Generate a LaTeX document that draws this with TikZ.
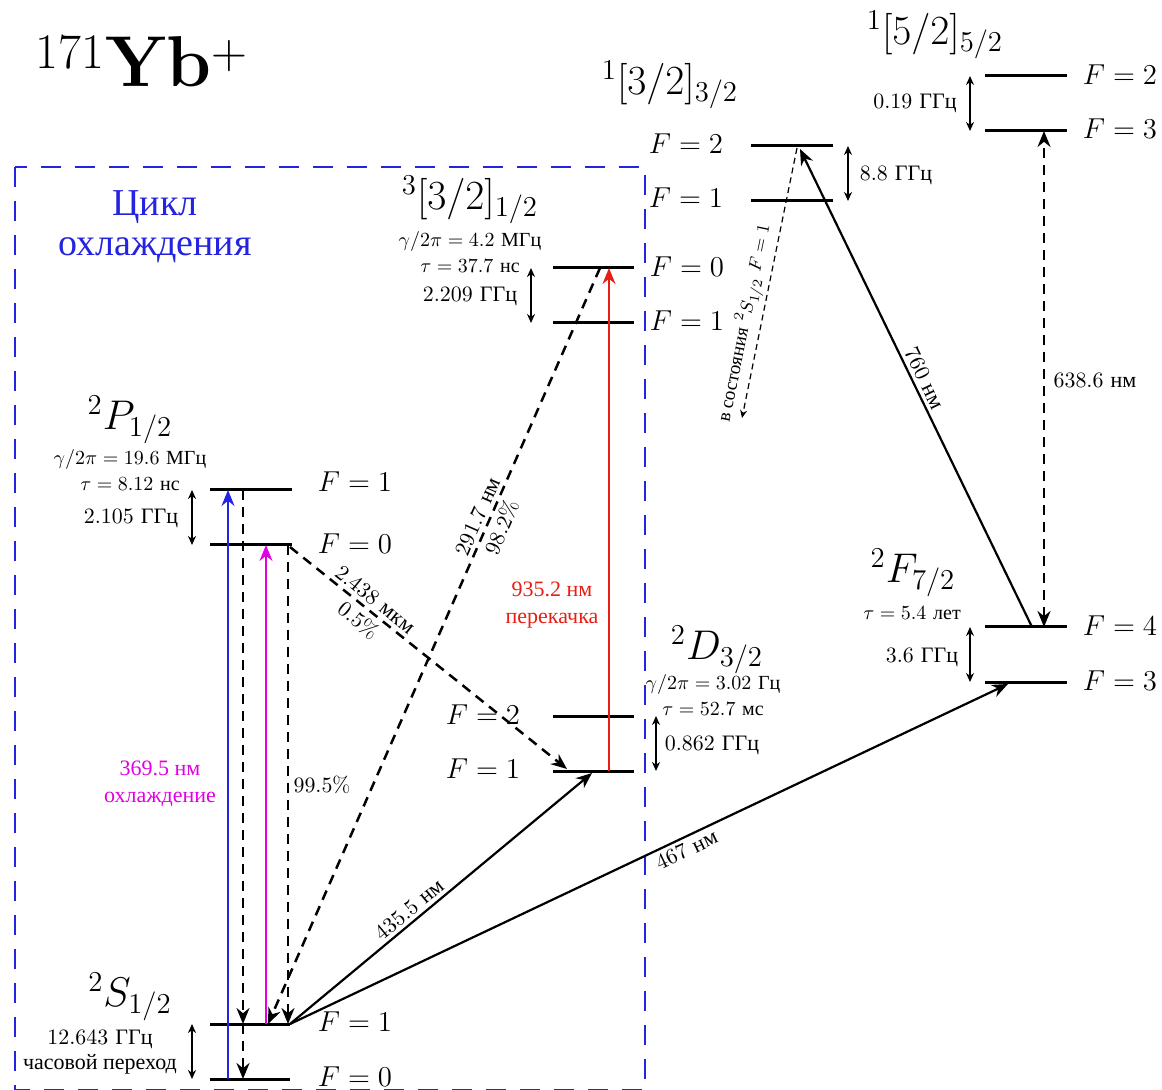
\documentclass[tikz,border=0pt]{standalone}
\usepackage{fontspec}
\newfontfamily\ru{Liberation Serif}
\usetikzlibrary{arrows.meta,calc}
\definecolor{cblue}{RGB}{35,35,225}
\definecolor{cred}{RGB}{232,30,20}
\definecolor{cmag}{RGB}{225,0,225}
\begin{document}
\begin{tikzpicture}[x=0.5pt,y=-0.5pt,
  level/.style={line width=1.5pt},
  flab/.style={font=\Large, inner sep=0pt},
  hf/.style={{Stealth[length=4.5pt,width=4pt]}-{Stealth[length=4.5pt,width=4pt]}, line width=0.8pt},
  tr/.style={line width=1.1pt, -{Stealth[length=8pt,width=6.5pt]}},
  dtr/.style={tr, line width=1.25pt, dash pattern=on 5pt off 3.5pt},
  thintr/.style={line width=0.6pt, dash pattern=on 3pt off 2pt, -{Stealth[length=4pt,width=3.5pt]}},
  lbl/.style={font=\fontsize{11}{12.5}\selectfont, inner sep=1pt},
  slbl/.style={font=\fontsize{11}{12.5}\selectfont, inner sep=2pt},
  info/.style={font=\fontsize{10}{12}\selectfont, align=center, inner sep=0pt},
  state/.style={font=\huge, inner sep=0pt},
  clab/.style={font=\ru\fontsize{11}{13.5}\selectfont, align=center, inner sep=0pt},
  boxdash/.style={draw=cblue, line width=1.3pt, dash pattern=on 10pt off 7pt}
]
\useasboundingbox (0,0) rectangle (1162,1090);

% cooling cycle box
\coordinate (boxNW) at (15,167);
\coordinate (boxSE) at (645,1090);
\draw[boxdash] (boxNW) rectangle (boxSE);
\node[font=\ru\fontsize{19}{20}\selectfont, text=cblue, align=center] (cyc) at (155,227) {Цикл\\охлаждения};

% title
\node[font=\fontsize{36}{42}\selectfont] (title) at (142,62) {$^{171}$\textbf{Yb}$^{+}$};

% ---------- levels ----------
\coordinate (S1l) at (210,1024); \coordinate (S1r) at (290,1024);
\coordinate (S0l) at (210,1079); \coordinate (S0r) at (290,1079);
\coordinate (P1l) at (210,490);  \coordinate (P1r) at (292,490);
\coordinate (P0l) at (210,545);  \coordinate (P0r) at (292,545);
\coordinate (D2l) at (553,716);  \coordinate (D2r) at (634,716);
\coordinate (D1l) at (553,771);  \coordinate (D1r) at (634,771);
\coordinate (T0l) at (553,268);  \coordinate (T0r) at (634,268);
\coordinate (T1l) at (553,323);  \coordinate (T1r) at (634,323);
\coordinate (Q2l) at (751,146);  \coordinate (Q2r) at (833,146);
\coordinate (Q1l) at (751,201);  \coordinate (Q1r) at (833,201);
\coordinate (V2l) at (985,76);   \coordinate (V2r) at (1067,76);
\coordinate (V3l) at (985,131);  \coordinate (V3r) at (1067,131);
\coordinate (F4l) at (985,627);  \coordinate (F4r) at (1067,627);
\coordinate (F3l) at (985,682);  \coordinate (F3r) at (1067,682);
\foreach \a/\b in {S1l/S1r,S0l/S0r,P1l/P1r,P0l/P0r,D2l/D2r,D1l/D1r,T0l/T0r,T1l/T1r,Q2l/Q2r,Q1l/Q1r,V2l/V2r,V3l/V3r,F4l/F4r,F3l/F3r}
  \draw[level] (\a) -- (\b);

% F labels
\node[flab] (lP1) at (355,482) {$F=1$};
\node[flab] (lP0) at (355,544) {$F=0$};
\node[flab] (lS1) at (355,1022) {$F=1$};
\node[flab] (lS0) at (355,1077) {$F=0$};
\node[flab] (lD2) at (483,715) {$F=2$};
\node[flab] (lD1) at (483,769) {$F=1$};
\node[flab] (lT0) at (687,267) {$F=0$};
\node[flab] (lT1) at (687,321) {$F=1$};
\node[flab] (lQ2) at (686,144) {$F=2$};
\node[flab] (lQ1) at (686,198) {$F=1$};
\node[flab] (lV2) at (1120,75) {$F=2$};
\node[flab] (lV3) at (1120,129) {$F=3$};
\node[flab] (lF4) at (1120,626) {$F=4$};
\node[flab] (lF3) at (1120,681) {$F=3$};

% state names and data
\node[state] (nP) at (130,420) {$^2P_{1/2}$};
\node[info] (iP) at (130,470) {$\gamma/2\pi=19.6$~{\ru МГц}\\[1pt]$\tau=8.12$~{\ru нс}};
\node[state] (nS) at (130,997) {$^2S_{1/2}$};
\node[state] (nT) at (470,200) {$^3[3/2]_{1/2}$};
\node[info] (iT) at (470,252) {$\gamma/2\pi=4.2$~{\ru МГц}\\[1pt]$\tau=37.7$~{\ru нс}};
\node[state] (nQ) at (670,85) {$^1[3/2]_{3/2}$};
\node[state] (nV) at (935,35) {$^1[5/2]_{5/2}$};
\node[state] (nF) at (913,573) {$^2F_{7/2}$};
\node[info] (iF) at (912,613) {$\tau=5.4$~{\ru лет}};
\node[state] (nD) at (717,650) {$^2D_{3/2}$};
\node[info] (iD) at (713,695) {$\gamma/2\pi=3.02$~{\ru Гц}\\[1pt]$\tau=52.7$~{\ru мс}};

% hyperfine splittings
\coordinate (hP1) at (192,490); \coordinate (hP0) at (192,545);
\draw[hf] (hP1) -- (hP0);
\node[lbl] (sP) at (131,518) {$2.105$~{\ru ГГц}};
\coordinate (hS1) at (192,1024); \coordinate (hS0) at (192,1079);
\draw[hf] (hS1) -- (hS0);
\node[lbl, align=center] (sS) at (100,1052) {$12.643$~{\ru ГГц}\\{\ru часовой переход}};
\coordinate (hT0) at (531,268); \coordinate (hT1) at (531,323);
\draw[hf] (hT0) -- (hT1);
\node[lbl] (sT) at (470,296) {$2.209$~{\ru ГГц}};
\coordinate (hD2) at (656,716); \coordinate (hD1) at (656,771);
\draw[hf] (hD2) -- (hD1);
\node[lbl] (sD) at (712,745) {$0.862$~{\ru ГГц}};
\coordinate (hQ2) at (848,146); \coordinate (hQ1) at (848,201);
\draw[hf] (hQ2) -- (hQ1);
\node[lbl] (sQ) at (896,175) {$8.8$~{\ru ГГц}};
\coordinate (hV2) at (970,76); \coordinate (hV3) at (970,131);
\draw[hf] (hV2) -- (hV3);
\node[lbl] (sV) at (915,103) {$0.19$~{\ru ГГц}};
\coordinate (hF4) at (970,627); \coordinate (hF3) at (970,682);
\draw[hf] (hF4) -- (hF3);
\node[lbl] (sF) at (922,657) {$3.6$~{\ru ГГц}};

% ---------- transitions ----------
% blue 369.5 from F=0
\coordinate (bS) at (228,1079); \coordinate (bP) at (228,490);
\draw[tr, draw=cblue, line width=1pt, -{Stealth[length=8pt,width=6.5pt,fill=cblue]}] (bS) -- (bP);
% dashed decay F=1 -> S F=1 -> S F=0
\coordinate (d1a) at (243,490); \coordinate (d1b) at (243,1024); \coordinate (d1c) at (243,1079);
\draw[dtr] (d1a) -- (d1b);
\draw[dtr] (d1b) -- (d1c);
% magenta cooling
\coordinate (mS) at (266,1024); \coordinate (mP) at (266,545);
\draw[tr, draw=cmag, line width=1pt, -{Stealth[length=8pt,width=6.5pt,fill=cmag]}] (mS) -- (mP);
\node[clab, text=cmag] (lcool) at (160,784) {369.5 нм\\охлаждение};
% dashed decay P F=0 -> S F=1
\coordinate (d2a) at (288,545); \coordinate (d2b) at (288,1024);
\draw[dtr] (d2a) -- (d2b);
\node[lbl] (p995) at (322,785) {$99.5\%$};
% P F=0 -> D F=1
\coordinate (d3a) at (290,547); \coordinate (d3b) at (567,769);
\draw[dtr] (d3a) -- node[pos=0.28, sloped, above, slbl] (l2438) {$2.438$~{\ru мкм}}
                  node[pos=0.28, sloped, below, slbl] (l05) {$0.5\%$} (d3b);
% 3[3/2] F=0 -> S F=1
\coordinate (d4a) at (600,268); \coordinate (d4b) at (268,1024);
\draw[dtr] (d4a) -- node[pos=0.335, sloped, above, slbl] (l2917) {$291.7$~{\ru нм}}
                  node[pos=0.335, sloped, below, slbl] (l982) {$98.2\%$} (d4b);
% red repump
\coordinate (rD) at (609,771); \coordinate (rT) at (609,268);
\draw[tr, draw=cred, line width=1pt, -{Stealth[length=8pt,width=6.5pt,fill=cred]}] (rD) -- (rT);
\node[clab, text=cred] (lrep) at (552,605) {935.2 нм\\перекачка};
% 435.5 nm
\coordinate (t1b) at (592,773);
\draw[tr] (S1r) -- node[pos=0.42, sloped, above, slbl] (l4355) {$435.5$~{\ru нм}} (t1b);
% 467 nm
\coordinate (t2b) at (1008,684);
\draw[tr] (S1r) -- node[pos=0.545, sloped, below, slbl] (l467) {$467$~{\ru нм}} (t2b);
% 760 nm
\coordinate (t3a) at (1032,627); \coordinate (t3b) at (800,149);
\draw[tr] (t3a) -- node[pos=0.51, sloped, above, slbl] (l760) {$760$~{\ru нм}} (t3b);
% decay to S F=1 (thin)
\coordinate (t4a) at (797,148); \coordinate (t4b) at (742,418);
\draw[thintr] (t4a) -- node[pos=0.66, sloped, above, font=\fontsize{9.5}{10}\selectfont, inner sep=1.5pt] (lback) {{\ru в состояния} $^2S_{1/2}\ F=1$} (t4b);
% 638.6 nm
\coordinate (t5a) at (1044,627); \coordinate (t5b) at (1044,131);
\draw[dtr, {Stealth[length=8pt,width=6.5pt]}-{Stealth[length=8pt,width=6.5pt]}] (t5a) -- (t5b);
\node[lbl] (l6386) at (1095,380) {$638.6$~{\ru нм}};
\end{tikzpicture}
\end{document}
